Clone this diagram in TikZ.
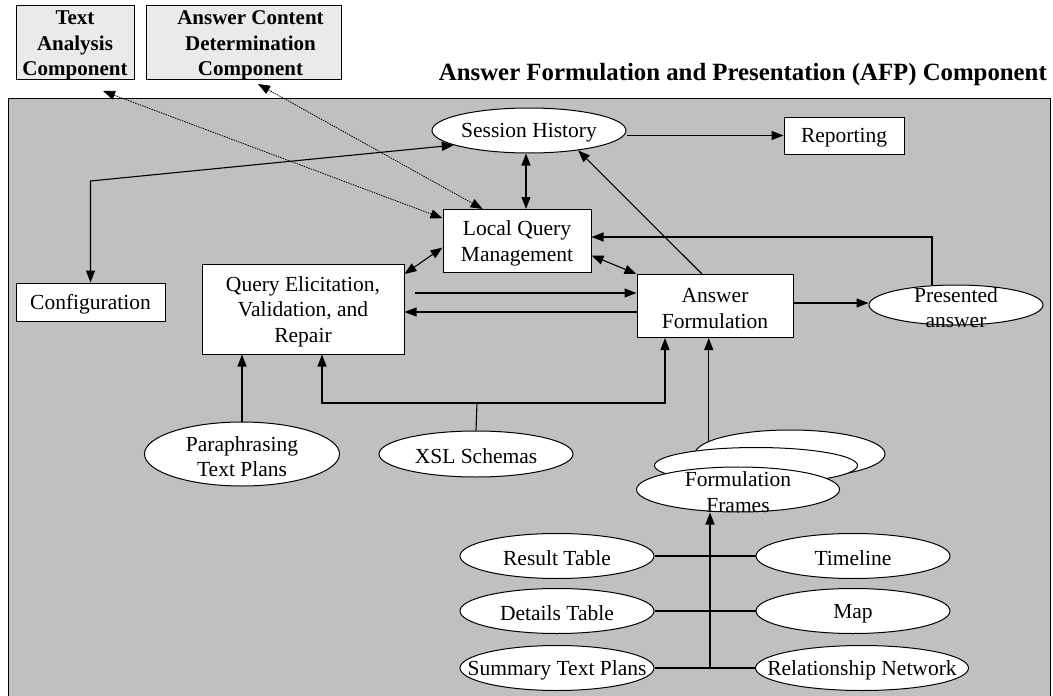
\documentclass[tikz,border=0pt]{standalone}
\usepackage{fontspec}
\setmainfont{Liberation Serif}
\usetikzlibrary{shapes.geometric,arrows.meta,calc}
\definecolor{panelgray}{RGB}{192,192,192}
\definecolor{extgray}{RGB}{234,234,234}
\begin{document}
\begin{tikzpicture}[x=1pt,y=-1pt,
  lw/.style={line width=1.1pt},
  tip/.tip={Triangle[length=12pt,width=9pt]},
  arr/.style={lw,-tip},
  darr/.style={lw,tip-tip},
  dotarr/.style={line width=0.8pt,dash pattern=on 1.5pt off 1pt,tip-tip},
  box/.style={draw,line width=1pt,fill=white,rectangle,inner sep=0pt},
  ell/.style={draw,line width=1pt,fill=white,ellipse,inner sep=0pt},
  lbl/.style={align=center,font=\fontsize{21.5}{25.5}\selectfont,inner sep=0pt,yshift=-2.5pt},
  ext/.style={draw,line width=1pt,fill=extgray,rectangle,inner sep=0pt},
  extlbl/.style={align=center,font=\bfseries\fontsize{21}{25.5}\selectfont,inner sep=0pt,yshift=-3pt},
]
\useasboundingbox (0,0) rectangle (1053,696);
% panel
\fill[panelgray] (8,98) rectangle (1050,700);
\draw[line width=1pt] (8,700) -- (8,98) -- (1050,98) -- (1050,700);

% external components
\node[ext, minimum width=118pt, minimum height=74pt, label={[extlbl]center:Text\\Analysis\\Component}] (ta) at (75,42.5) {};
\node[ext, minimum width=195pt, minimum height=74pt, label={[extlbl,xshift=7pt]center:Answer Content\\Determination\\Component}] (acd) at (243.5,42.5) {};
\node[font=\bfseries\fontsize{24.8}{28}\selectfont, anchor=base east, inner sep=0pt] (title) at (1047,80) {Answer Formulation and Presentation (AFP) Component};

% main nodes
\node[ell, minimum width=194pt, minimum height=45pt, label={[lbl]center:Session History}] (sh) at (529,130.5) {};
\node[box, minimum width=120pt, minimum height=37pt, label={[lbl]center:Reporting}] (rep) at (844,135.5) {};
\node[box, minimum width=148pt, minimum height=63pt, label={[lbl]center:Local Query\\Management}] (lqm) at (517,241) {};
\node[box, minimum width=149pt, minimum height=38pt, label={[lbl]center:Configuration}] (cfg) at (90.5,302) {};
\node[box, minimum width=202pt, minimum height=90pt, label={[lbl]center:Query Elicitation,\\Validation, and\\Repair}] (qe) at (303,309) {};
\node[box, minimum width=156pt, minimum height=63pt, label={[lbl]center:Answer\\Formulation}] (af) at (715,306) {};
\node[ell, minimum width=174pt, minimum height=40pt, label={[lbl]center:Presented\\answer}] (pa) at (956,305) {};
\node[ell, minimum width=195pt, minimum height=64pt, label={[lbl]center:Paraphrasing\\Text Plans}] (para) at (242,454) {};
\node[ell, minimum width=194pt, minimum height=46pt, label={[lbl]center:XSL Schemas}] (xsl) at (476,454) {};
\node[ell, minimum width=190pt, minimum height=48pt] (ffb) at (790,454) {};
\node[ell, minimum width=203pt, minimum height=36pt] (ffm) at (756,465.5) {};
\node[ell, minimum width=203pt, minimum height=45pt, label={[lbl]center:Formulation\\Frames}] (fff) at (738,489.5) {};

\node[ell, minimum width=194pt, minimum height=45pt, label={[lbl]center:Result Table}] (rt) at (557,556) {};
\node[ell, minimum width=194pt, minimum height=45pt, label={[lbl]center:Timeline}] (tl) at (853,556) {};
\node[ell, minimum width=194pt, minimum height=45pt, label={[lbl]center:Details Table}] (dt) at (557,611) {};
\node[ell, minimum width=194pt, minimum height=45pt, label={[lbl]center:Map}] (map) at (853,611) {};
\node[ell, minimum width=194pt, minimum height=45pt, label={[lbl]center:Summary Text Plans}] (stp) at (557,668) {};
\node[ell, minimum width=213pt, minimum height=45pt, label={[lbl]center:Relationship Network}] (rn) at (862,668) {};

% free ends and junctions
\coordinate (taE) at (103,91);
\coordinate (acdE) at (258,84);
\coordinate (c1) at (90.5,181);
\coordinate (xj) at (477,403);
\coordinate (bj) at (710,668);

% connectors
\draw[darr] (cfg.north) -- (c1) -- (sh.191);
\draw[darr] (sh.south -| 526,0) -- (lqm.north -| 526,0);
\draw[arr] (rep.west -| sh.east) -- (rep.west);
\draw[arr] ([xshift=-13pt]af.north) -- (sh.-22);
\draw[dotarr] (taE) -- (lqm.163);
\draw[dotarr] (acdE) -- (lqm.137);
\draw[darr] (lqm.185) -- (qe.19);
\draw[darr] (lqm.-11) -- (af.north west);
\draw[arr] ($(qe.east)+(10,-16)$) coordinate (q1) -- (q1 -| af.west);
\draw[arr] ($(af.west)+(0,6)$) coordinate (q2) -- (q2 -| qe.east);
\draw[arr] ($(af.east)+(0,-3)$) coordinate (q3) -- (q3 -| pa.west);
\draw[arr] ([xshift=-24pt]pa.north) |- ($(lqm.east)+(0,-4)$);
\draw[arr] (para.north) -- (para.north |- qe.south);
\draw[lw] (xsl.north) -- (xj);
\draw[arr] (xj) -| ($(qe.south)+(19,0)$);
\draw[arr] (xj) -| ($(af.south)+(-50,0)$);
\draw[arr] (ffb.171) -- (ffb.171 |- af.south);
\draw[arr] (bj) -- (bj |- fff.south);
\draw[lw] (rt.east) -- (tl.west);
\draw[lw] (dt.east) -- (map.west);
\draw[lw] (stp.east) -- (rn.west);
\end{tikzpicture}
\end{document}
